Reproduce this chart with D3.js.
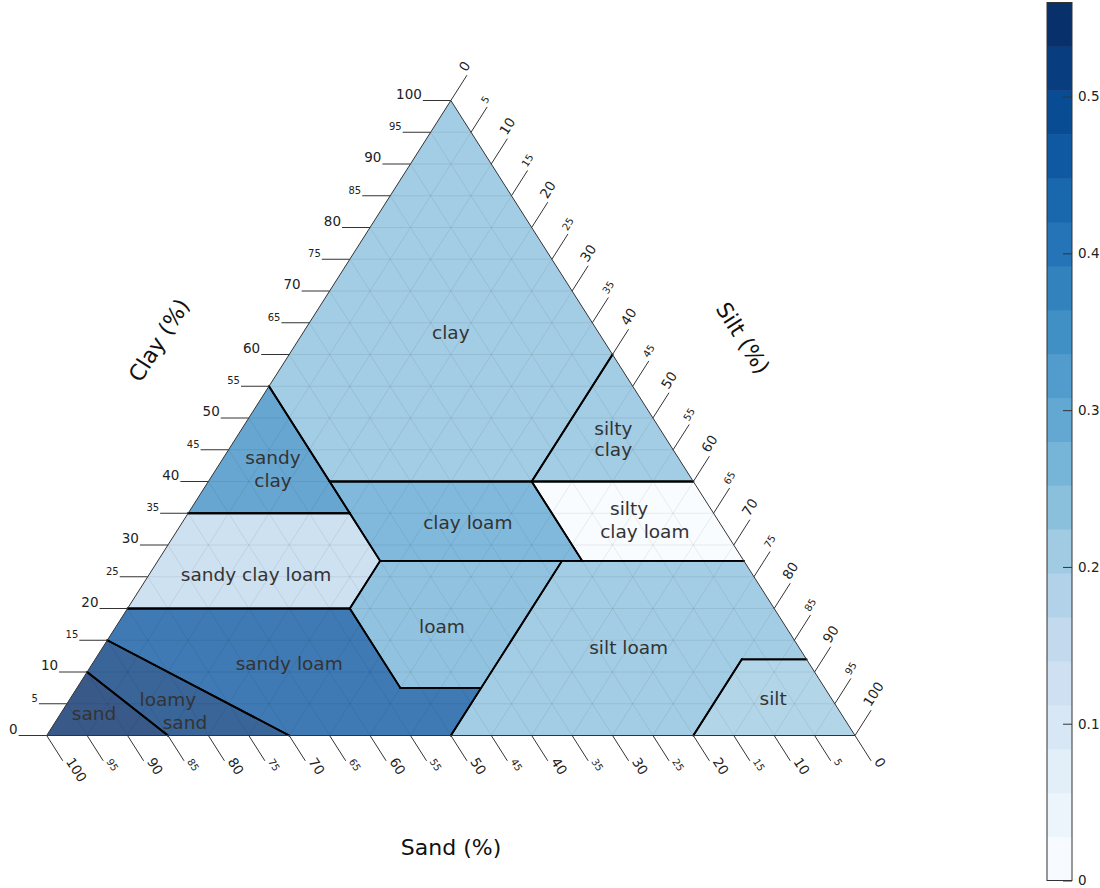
<!DOCTYPE html>
<html>
<head>
<meta charset="utf-8">
<script src="https://cdn.jsdelivr.net/npm/d3@7"></script>
<style>
  body { margin: 0; background: #fff; }
  svg { display: block; }
  text { font-family: "DejaVu Sans", sans-serif; }
</style>
</head>
<body>
<svg id="chart" width="1100" height="888"></svg>
<script>
// USDA soil texture classes; every vertex is [sand, silt, clay] in percent
const classNames = [
  "clay", "silty clay", "sandy clay", "clay loam", "silty clay loam",
  "sandy clay loam", "loam", "silt loam", "sandy loam", "silt",
  "loamy sand", "sand"
];
const classValues = [0.24, 0.235, 0.35, 0.29, 0.015, 0.15, 0.26, 0.23, 0.46, 0.21, 0.52, 0.55];
const classPolygons = [
  [[0, 0, 100], [45, 0, 55], [45, 15, 40], [20, 40, 40], [0, 40, 60]],
  [[0, 40, 60], [20, 40, 40], [0, 60, 40]],
  [[45, 0, 55], [65, 0, 35], [45, 20, 35], [45, 15, 40]],
  [[45, 15, 40], [45, 20, 35], [45, 27.5, 27.5], [20, 52.5, 27.5], [20, 40, 40]],
  [[20, 40, 40], [20, 52.5, 27.5], [0, 72.5, 27.5], [0, 60, 40]],
  [[65, 0, 35], [80, 0, 20], [52.5, 27.5, 20], [45, 27.5, 27.5], [45, 20, 35]],
  [[45, 27.5, 27.5], [52.5, 27.5, 20], [52.5, 40, 7.5], [42.5, 50, 7.5], [22.5, 50, 27.5]],
  [[22.5, 50, 27.5], [42.5, 50, 7.5], [50, 50, 0], [20, 80, 0], [8, 80, 12], [0, 88, 12], [0, 72.5, 27.5]],
  [[85, 0, 15], [80, 0, 20], [52.5, 27.5, 20], [52.5, 40, 7.5], [42.5, 50, 7.5], [50, 50, 0], [70, 30, 0]],
  [[8, 80, 12], [20, 80, 0], [0, 100, 0], [0, 88, 12]],
  [[90, 0, 10], [85, 0, 15], [70, 30, 0], [85, 15, 0]],
  [[100, 0, 0], [90, 0, 10], [85, 15, 0]]
];

// Class name lines, each placed at a [sand, silt, clay] composition
const labelLines = [
  { text: "clay", at: [18.3, 18.3, 63.4] },
  { text: "silty", at: [5.7, 45.9, 48.4] },
  { text: "clay", at: [7.4, 47.6, 45.0] },
  { text: "sandy", at: [50.15, 6.15, 43.7] },
  { text: "clay", at: [51.9, 7.9, 40.2] },
  { text: "clay loam", at: [31.15, 35.35, 33.5] },
  { text: "silty", at: [10.1, 54.2, 35.7] },
  { text: "clay loam", at: [9.9, 57.9, 32.2] },
  { text: "sandy clay loam", at: [61.45, 13.25, 25.3] },
  { text: "loam", at: [42.5, 40.3, 17.2] },
  { text: "sandy loam", at: [64.3, 24.3, 11.4] },
  { text: "silt loam", at: [21.1, 65.1, 13.8] },
  { text: "loamy", at: [82.2, 12.2, 5.6] },
  { text: "sand", at: [81.85, 16.05, 2.1] },
  { text: "sand", at: [92.45, 4.15, 3.4] },
  { text: "silt", at: [7.25, 87.0, 5.75] }
];

const axisTicks = d3.range(0, 101, 5);
const colorbarTicks = [0, 0.1, 0.2, 0.3, 0.4, 0.5];
const colorLevels = 20;
const colorMax = 0.56;
const bluesStops = ["#f7fbff", "#deebf7", "#c6dbef", "#9ecae1", "#6baed6", "#4292c6", "#2171b5", "#08519c", "#08306b"];

const svg = d3.select("#chart");

// Ternary projection: horizontal position follows silt + clay/2, vertical follows clay
const xScale = d3.scaleLinear().domain([0, 100]).range([46.7, 855]);
const yScale = d3.scaleLinear().domain([0, 100]).range([735.5, 100.5]);
const project = ([sand, silt, clay]) => [xScale(silt + clay / 2), yScale(clay)];

const blues = d3.scaleLinear()
  .domain(bluesStops.map((_, i) => i / (bluesStops.length - 1)))
  .range(bluesStops)
  .interpolate(d3.interpolateRgb);
const levelColors = d3.range(colorLevels).map(i => blues(i / (colorLevels - 1)));
const color = d3.scaleQuantize().domain([0, colorMax]).range(levelColors);

const line = d3.line();

// Class fills
svg.append("g")
  .selectAll("path")
  .data(classPolygons)
  .join("path")
  .attr("d", poly => line(poly.map(project)) + "Z")
  .attr("fill", (_, i) => color(classValues[i]))
  .attr("fill-opacity", 0.8)
  .attr("stroke", "none");

// 5 % grid in all three directions
const gridSegs = [];
axisTicks.filter(v => v > 0 && v < 100).forEach(v => {
  gridSegs.push([[100 - v, 0, v], [0, 100 - v, v]]);   // constant clay
  gridSegs.push([[v, 100 - v, 0], [v, 0, 100 - v]]);   // constant sand
  gridSegs.push([[100 - v, v, 0], [0, v, 100 - v]]);   // constant silt
});
svg.append("g")
  .selectAll("path")
  .data(gridSegs)
  .join("path")
  .attr("d", s => line(s.map(project)))
  .attr("stroke", "#000")
  .attr("stroke-opacity", 0.07)
  .attr("stroke-width", 1)
  .attr("fill", "none");

// Class boundaries, leaving out edges that lie on the triangle border
const onBorder = (a, b) => [0, 1, 2].some(k => a[k] === 0 && b[k] === 0);
const boundarySegs = [];
classPolygons.forEach(poly => {
  poly.forEach((a, i) => {
    const b = poly[(i + 1) % poly.length];
    if (!onBorder(a, b)) boundarySegs.push([a, b]);
  });
});
svg.append("g")
  .selectAll("path")
  .data(boundarySegs)
  .join("path")
  .attr("d", s => line(s.map(project)))
  .attr("stroke", "#000")
  .attr("stroke-width", 1.8)
  .attr("stroke-linecap", "round")
  .attr("fill", "none");

// Triangle outline
svg.append("path")
  .attr("d", line([[100, 0, 0], [0, 100, 0], [0, 0, 100]].map(project)) + "Z")
  .attr("fill", "none")
  .attr("stroke", "#333")
  .attr("stroke-width", 1);

// Axis ticks
const rightEdge = (() => {
  const a = project([0, 0, 100]), b = project([0, 100, 0]);
  const len = Math.hypot(b[0] - a[0], b[1] - a[1]);
  return [(b[0] - a[0]) / len, (b[1] - a[1]) / len];
})();
const tickLen = 30;
const angle = Math.atan2(rightEdge[1], rightEdge[0]) * 180 / Math.PI;

const tickGroup = svg.append("g");
function drawTick(p, dir, len, value, rot, anchor) {
  const end = [p[0] + dir[0] * len, p[1] + dir[1] * len];
  tickGroup.append("line")
    .attr("x1", p[0]).attr("y1", p[1])
    .attr("x2", end[0]).attr("y2", end[1])
    .attr("stroke", "#333").attr("stroke-width", 1);
  const major = value % 10 === 0;
  tickGroup.append("text")
    .attr("transform", `translate(${end[0]},${end[1]}) rotate(${rot})`)
    .attr("x", anchor === "end" ? -1 : 2)
    .attr("y", -2)
    .attr("text-anchor", anchor)
    .attr("font-size", major ? 13.5 : 10)
    .attr("fill", "#222")
    .text(value);
}
axisTicks.forEach(v => {
  // clay: left edge, horizontal ticks
  drawTick(project([100 - v, 0, v]), [-1, 0], 28, v, 0, "end");
  // sand: bottom edge, ticks along constant-sand lines
  drawTick(project([v, 100 - v, 0]), rightEdge, tickLen, v, angle, "start");
  // silt: right edge, ticks along constant-silt lines
  drawTick(project([0, v, 100 - v]), [rightEdge[0], -rightEdge[1]], tickLen, v, -angle, "start");
});

// Axis titles
svg.append("text")
  .attr("transform", `translate(159,340) rotate(${-angle})`)
  .attr("text-anchor", "middle").attr("dy", "0.35em")
  .attr("font-size", 22).attr("fill", "#111")
  .text("Clay (%)");
svg.append("text")
  .attr("transform", `translate(743,338) rotate(${angle})`)
  .attr("text-anchor", "middle").attr("dy", "0.35em")
  .attr("font-size", 22).attr("fill", "#111")
  .text("Silt (%)");
svg.append("text")
  .attr("transform", "translate(451,847)")
  .attr("text-anchor", "middle").attr("dy", "0.35em")
  .attr("font-size", 22).attr("fill", "#111")
  .text("Sand (%)");

// Class names
svg.append("g")
  .selectAll("text")
  .data(labelLines)
  .join("text")
  .attr("x", d => project(d.at)[0])
  .attr("y", d => project(d.at)[1])
  .attr("dy", "0.35em")
  .attr("text-anchor", "middle")
  .attr("font-size", 18.5)
  .attr("fill", "#333")
  .text(d => d.text);

// Colour bar
const cbX = 1047, cbW = 25;
const cbScale = d3.scaleLinear().domain([0, colorMax]).range([880.5, 2.5]);
const cb = svg.append("g");
cb.selectAll("rect")
  .data(levelColors)
  .join("rect")
  .attr("x", cbX)
  .attr("width", cbW)
  .attr("y", (_, i) => cbScale((i + 1) * colorMax / colorLevels))
  .attr("height", (_, i) => cbScale(i * colorMax / colorLevels) - cbScale((i + 1) * colorMax / colorLevels) + 0.5)
  .attr("fill", d => d);
cb.append("rect")
  .attr("x", cbX).attr("y", 2.5)
  .attr("width", cbW).attr("height", 878)
  .attr("fill", "none").attr("stroke", "#333").attr("stroke-width", 1);
const cbAxis = cb.append("g")
  .attr("transform", `translate(${cbX + cbW},0)`)
  .call(d3.axisRight(cbScale).tickValues(colorbarTicks).tickSize(-9).tickPadding(6).tickFormat(d3.format("~g")));
cbAxis.select(".domain").remove();
cbAxis.selectAll(".tick line").attr("stroke", "#333");
cbAxis.selectAll(".tick text")
  .attr("font-size", 13.5)
  .attr("font-family", "DejaVu Sans, sans-serif")
  .attr("fill", "#222");
</script>
</body>
</html>
